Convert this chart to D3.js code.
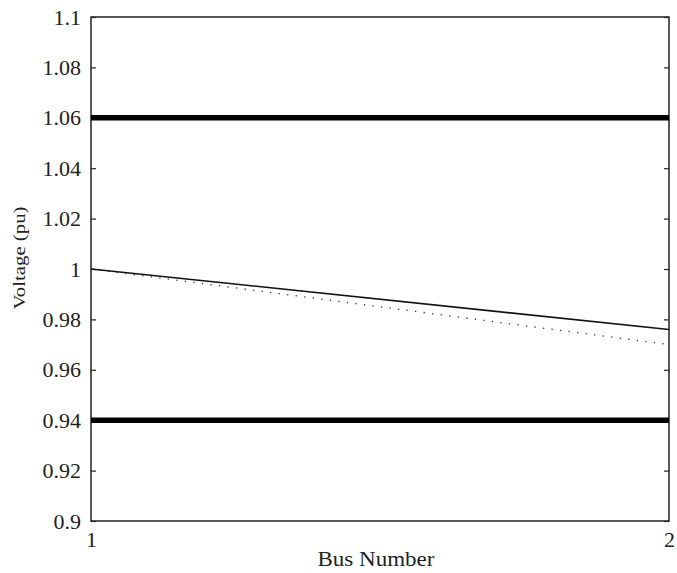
<!DOCTYPE html>
<html>
<head>
<meta charset="utf-8">
<script src="https://cdn.jsdelivr.net/npm/d3@7"></script>
<style>
  body { margin: 0; background: #fff; }
  svg text { font-family: "Liberation Serif", "DejaVu Serif", serif; fill: #222; }
</style>
</head>
<body>
<div id="chart"></div>
<script>
const buses = [1, 2];
const voltageA = [1.0, 0.976];   // solid
const voltageB = [1.0, 0.970];   // dotted
const limits = [1.06, 0.94];
const yTicks = [0.9, 0.92, 0.94, 0.96, 0.98, 1, 1.02, 1.04, 1.06, 1.08, 1.1];

const W = 677, H = 573;
const margin = { top: 17, right: 8, bottom: 52, left: 91 };
const width = W - margin.left - margin.right,
    height = H - margin.top - margin.bottom;

const serif = '"Liberation Serif", "DejaVu Serif", serif';

const svg = d3.select("#chart").append("svg")
    .attr("width", W).attr("height", H);

const g = svg.append("g")
    .attr("transform", `translate(${margin.left},${margin.top})`);

const x = d3.scaleLinear().domain([1, 2]).range([0, width]);
const y = d3.scaleLinear().domain([0.9, 1.1]).range([height, 0]);

// left axis with inward ticks
const yAxisL = d3.axisLeft(y).tickValues(yTicks).tickSize(-5).tickPadding(10)
    .tickFormat(d => String(+d.toFixed(2)));
g.append("g").attr("class", "yAxisL").call(yAxisL)
    .attr("font-family", serif).attr("font-size", 22)
    .call(a => a.select(".domain").remove());

const yAxisR = d3.axisRight(y).tickValues(yTicks).tickSize(-5).tickFormat("");
g.append("g").attr("transform", `translate(${width},0)`).call(yAxisR)
    .call(a => a.select(".domain").remove());

const xAxis = d3.axisBottom(x).tickValues(buses).tickSize(0).tickPadding(10)
    .tickFormat(d3.format("d"));
g.append("g").attr("transform", `translate(0,${height})`).call(xAxis)
    .attr("font-family", serif).attr("font-size", 22)
    .call(a => a.select(".domain").remove());

g.selectAll(".tick line").attr("stroke", "#222").attr("stroke-width", 1.2);

// frame
g.append("rect").attr("width", width).attr("height", height)
    .attr("fill", "none").attr("stroke", "#222").attr("stroke-width", 1.5);

// limit lines
g.selectAll(".limit").data(limits).enter().append("line")
    .attr("class", "limit")
    .attr("x1", x(1)).attr("x2", x(2))
    .attr("y1", d => y(d)).attr("y2", d => y(d))
    .attr("stroke", "#000").attr("stroke-width", 5.5);

const line = d3.line().x((d, i) => x(buses[i])).y(d => y(d));

g.append("path").datum(voltageB).attr("d", line)
    .attr("fill", "none").attr("stroke", "#333").attr("stroke-width", 1.3)
    .attr("stroke-dasharray", "1.3,7.3");

g.append("path").datum(voltageA).attr("d", line)
    .attr("fill", "none").attr("stroke", "#111").attr("stroke-width", 1.6);

// axis labels
svg.append("text")
    .attr("x", 376).attr("y", 566)
    .attr("text-anchor", "middle").style("font-size", "21px")
    .attr("textLength", 117).attr("lengthAdjust", "spacingAndGlyphs")
    .text("Bus Number");

svg.append("text")
    .attr("transform", `translate(25,258) rotate(-90)`)
    .attr("text-anchor", "middle").style("font-size", "17px")
    .attr("textLength", 103).attr("lengthAdjust", "spacingAndGlyphs")
    .text("Voltage (pu)");
</script>
</body>
</html>
